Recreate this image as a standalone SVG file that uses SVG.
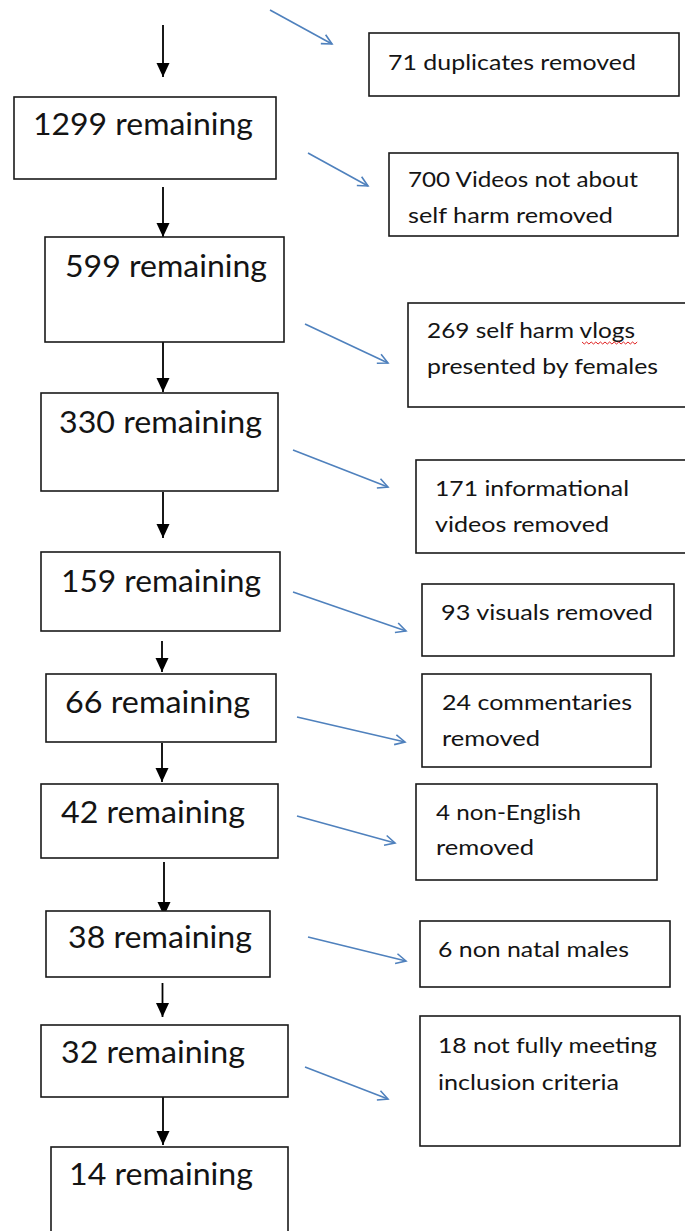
<svg xmlns="http://www.w3.org/2000/svg" width="685" height="1231" viewBox="0 0 685 1231">
<defs>
<style>
.box{fill:#fff;stroke:#1a1a1a;stroke-width:1.6}
.main{font-family:Lato,"Liberation Sans",Arial,sans-serif;font-size:30px;fill:#141414}
.side{font-family:Lato,"Liberation Sans",Arial,sans-serif;font-size:21.5px;fill:#141414}
.blk{stroke:#000;stroke-width:1.8;fill:none}
.blu{stroke:#4f81bd;stroke-width:1.6;fill:none}
</style>
<marker id="ah" markerUnits="userSpaceOnUse" markerWidth="14" markerHeight="16" refX="14" refY="6.5" orient="auto">
<path d="M0,0 L14,6.5 L0,13 Z" fill="#000"/>
</marker>
<marker id="bh" markerUnits="userSpaceOnUse" markerWidth="14" markerHeight="14" refX="11" refY="6" orient="auto">
<path d="M1,1 L11,6 L1,11" fill="none" stroke="#4f81bd" stroke-width="1.6"/>
</marker>
</defs>
<rect width="685" height="1231" fill="#fff"/>

<g id="connectors">
<line class="blk" x1="163" y1="25" x2="163" y2="77" marker-end="url(#ah)"/>
<line class="blk" x1="163" y1="187" x2="163" y2="237" marker-end="url(#ah)"/>
<line class="blk" x1="163" y1="342" x2="163" y2="392" marker-end="url(#ah)"/>
<line class="blk" x1="163" y1="492" x2="163" y2="538" marker-end="url(#ah)"/>
<line class="blk" x1="162" y1="641" x2="162" y2="672" marker-end="url(#ah)"/>
<line class="blk" x1="162" y1="743" x2="162" y2="782" marker-end="url(#ah)"/>
<line class="blk" x1="164" y1="862" x2="164" y2="916" marker-end="url(#ah)"/>
<line class="blk" x1="162.5" y1="983" x2="162.5" y2="1017" marker-end="url(#ah)"/>
<line class="blk" x1="163" y1="1097" x2="163" y2="1145" marker-end="url(#ah)"/>

<line class="blu" x1="270" y1="10" x2="332" y2="44" marker-end="url(#bh)"/>
<line class="blu" x1="308" y1="153" x2="368" y2="186" marker-end="url(#bh)"/>
<line class="blu" x1="305" y1="324" x2="388" y2="363" marker-end="url(#bh)"/>
<line class="blu" x1="293" y1="450" x2="388" y2="487" marker-end="url(#bh)"/>
<line class="blu" x1="293" y1="592" x2="406" y2="631" marker-end="url(#bh)"/>
<line class="blu" x1="297" y1="717" x2="405" y2="742" marker-end="url(#bh)"/>
<line class="blu" x1="297" y1="816" x2="395" y2="843" marker-end="url(#bh)"/>
<line class="blu" x1="308" y1="937" x2="406" y2="961" marker-end="url(#bh)"/>
<line class="blu" x1="305" y1="1067" x2="388" y2="1099" marker-end="url(#bh)"/>
</g>

<g id="n1299"><rect class="box" x="14" y="97" width="262" height="82"/><text class="main" x="33" y="135" textLength="220" lengthAdjust="spacingAndGlyphs">1299 remaining</text></g>
<g id="n599"><rect class="box" x="45" y="237" width="239" height="105"/><text class="main" x="65" y="277" textLength="202" lengthAdjust="spacingAndGlyphs">599 remaining</text></g>
<g id="n330"><rect class="box" x="41" y="393" width="237" height="98"/><text class="main" x="59" y="433" textLength="203" lengthAdjust="spacingAndGlyphs">330 remaining</text></g>
<g id="n159"><rect class="box" x="41" y="552" width="239" height="79"/><text class="main" x="61" y="592" textLength="200" lengthAdjust="spacingAndGlyphs">159 remaining</text></g>
<g id="n66"><rect class="box" x="46" y="674" width="230" height="68"/><text class="main" x="65" y="713" textLength="185" lengthAdjust="spacingAndGlyphs">66 remaining</text></g>
<g id="n42"><rect class="box" x="41" y="784" width="237" height="74"/><text class="main" x="61" y="823" textLength="184" lengthAdjust="spacingAndGlyphs">42 remaining</text></g>
<g id="n38"><rect class="box" x="46" y="911" width="224" height="66"/><text class="main" x="68" y="948" textLength="184" lengthAdjust="spacingAndGlyphs">38 remaining</text></g>
<g id="n32"><rect class="box" x="41" y="1025" width="247" height="72"/><text class="main" x="61" y="1063" textLength="184" lengthAdjust="spacingAndGlyphs">32 remaining</text></g>
<g id="n14"><rect class="box" x="51" y="1147" width="237" height="95"/><text class="main" x="69" y="1185" textLength="184" lengthAdjust="spacingAndGlyphs">14 remaining</text></g>

<g id="s71"><rect class="box" x="369" y="33" width="310" height="63"/><text class="side" x="388" y="70" textLength="248" lengthAdjust="spacingAndGlyphs">71 duplicates removed</text></g>
<g id="s700"><rect class="box" x="389" y="153" width="289" height="83"/><text class="side" x="408" y="187" textLength="230" lengthAdjust="spacingAndGlyphs">700 Videos not about</text><text class="side" x="408" y="223" textLength="205" lengthAdjust="spacingAndGlyphs">self harm removed</text></g>
<g id="s269"><rect class="box" x="408" y="303" width="280" height="104"/><text class="side" x="427" y="338" textLength="208" lengthAdjust="spacingAndGlyphs">269 self harm vlogs</text><text class="side" x="427" y="374" textLength="231" lengthAdjust="spacingAndGlyphs">presented by females</text><path d="M582,342 l2.3,2 l2.3,-2 l2.3,2 l2.3,-2 l2.3,2 l2.3,-2 l2.3,2 l2.3,-2 l2.3,2 l2.3,-2 l2.3,2 l2.3,-2 l2.3,2 l2.3,-2 l2.3,2 l2.3,-2 l2.3,2 l2.3,-2 l2.3,2 l2.3,-2 l2.3,2 l2.3,-2 l2.3,2 l2.3,-2" fill="none" stroke="#e02020" stroke-width="1"/></g>
<g id="s171"><rect class="box" x="416" y="460" width="271" height="93"/><text class="side" x="435" y="496" textLength="194" lengthAdjust="spacingAndGlyphs">171 informational</text><text class="side" x="435" y="532" textLength="174" lengthAdjust="spacingAndGlyphs">videos removed</text></g>
<g id="s93"><rect class="box" x="422" y="584" width="252" height="72"/><text class="side" x="441" y="620" textLength="212" lengthAdjust="spacingAndGlyphs">93 visuals removed</text></g>
<g id="s24"><rect class="box" x="422" y="674" width="229" height="93"/><text class="side" x="442" y="710" textLength="190" lengthAdjust="spacingAndGlyphs">24 commentaries</text><text class="side" x="442" y="746" textLength="98" lengthAdjust="spacingAndGlyphs">removed</text></g>
<g id="s4"><rect class="box" x="416" y="784" width="241" height="96"/><text class="side" x="436" y="820" textLength="145" lengthAdjust="spacingAndGlyphs">4 non-English</text><text class="side" x="436" y="855" textLength="98" lengthAdjust="spacingAndGlyphs">removed</text></g>
<g id="s6"><rect class="box" x="420" y="921" width="250" height="66"/><text class="side" x="438" y="957" textLength="191" lengthAdjust="spacingAndGlyphs">6 non natal males</text></g>
<g id="s18"><rect class="box" x="420" y="1016" width="260" height="130"/><text class="side" x="438" y="1053" textLength="219" lengthAdjust="spacingAndGlyphs">18 not fully meeting</text><text class="side" x="438" y="1090" textLength="181" lengthAdjust="spacingAndGlyphs">inclusion criteria</text></g>
</svg>
